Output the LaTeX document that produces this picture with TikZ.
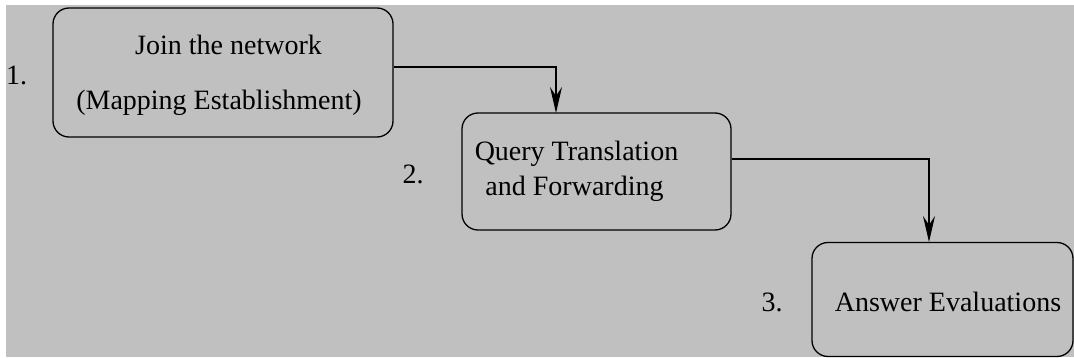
\documentclass[tikz,border=0pt]{standalone}
\usepackage{fontspec}
\setmainfont{Liberation Serif}
\usetikzlibrary{arrows.meta}
\definecolor{panel}{HTML}{C0C0C0}
\tikzset{
  stage/.style={draw=black, line width=1.3pt, rounded corners=16pt, inner sep=0pt},
  txt/.style={anchor=base, inner sep=0pt, font=\fontsize{28}{34}\selectfont},
  flow/.style={draw=black, line width=1.3pt,
    -{Stealth[length=26pt, width=12pt, inset=9pt]}},
}
\begin{document}
\begin{tikzpicture}[x=1pt, y=-1pt]
  \useasboundingbox (0,0) rectangle (1074,358);
  \fill[panel] (6,5) rectangle (1074,357);

  % stage boxes
  \node[stage, minimum width=340pt, minimum height=129pt] (b1) at (223,72.5) {};
  \node[stage, minimum width=269pt, minimum height=117pt] (b2) at (596.5,171.5) {};
  \begin{scope}
    \clip (0,0) rectangle (1074,358);
    \node[stage, minimum width=261pt, minimum height=114pt] (b3) at (942.5,299.5) {};
  \end{scope}

  % box texts
  \node[txt] (t1a) at (228.5,55) {Join the network};
  \node[txt] (t1b) at (219,110) {(Mapping Establishment)};
  \node[txt] (t2a) at (576.5,161) {Query Translation};
  \node[txt] (t2b) at (574.5,196) {and Forwarding};
  \node[txt] (t3) at (948,312) {Answer Evaluations};

  % step numbers
  \node[txt] (n1) at (16.5,85) {1.};
  \node[txt] (n2) at (413,184) {2.};
  \node[txt] (n3) at (772,312) {3.};

  % connectors
  \coordinate (in2) at (556,113);
  \coordinate (in3) at (929,242);
  \draw[flow] ([yshift=5.5pt]b1.east) -| (in2);
  \draw[flow] ([yshift=12.5pt]b2.east) -| (in3);
\end{tikzpicture}
\end{document}
